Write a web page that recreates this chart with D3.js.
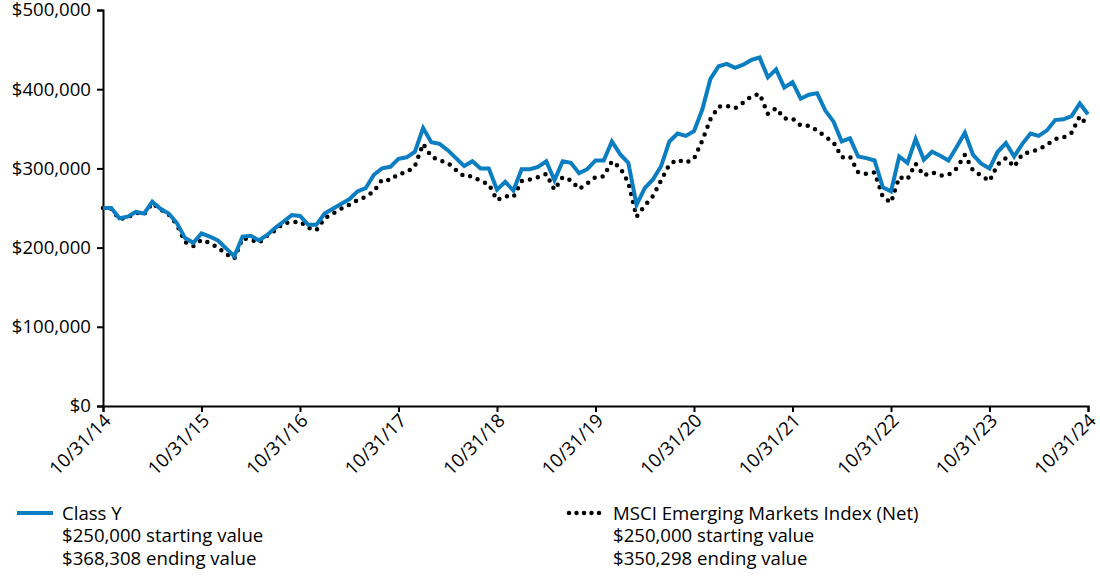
<!DOCTYPE html>
<html>
<head>
<meta charset="utf-8">
<script src="https://cdn.jsdelivr.net/npm/d3@7"></script>
<style>
  body { margin: 0; background: #fff; }
  svg { display: block; font-family: "Open Sans", "Noto Sans", sans-serif; }
</style>
</head>
<body>
<svg id="chart" width="1100" height="578"></svg>
<script>
// ---- data ----
const tickLabels = ["10/31/14","10/31/15","10/31/16","10/31/17","10/31/18","10/31/19","10/31/20","10/31/21","10/31/22","10/31/23","10/31/24"];
const yTicks = [0, 100000, 200000, 300000, 400000, 500000];
// monthly values in thousands, 10/31/14 .. 10/31/24 (121 points)
const classY = [
  250,250,237,239,245,243,258,249,243,231,212,206,
  218,214,209,199,189,214,215,209,216,225,233,241,
  240,229,229,243,249,255,261,271,275,292,300,302,
  312,314,321,351,333,331,323,313,303,309,300,300,
  273,283,272,299,299,302,309,285,309,307,294,299,
  310,310,334,318,307,254,275,286,303,334,344,341,
  347,374,413,429,432,427,431,437,440,415,425,402,
  409,388,393,395,373,359,334,338,315,313,310,276,
  271,315,307,337,311,321,316,310,327,345,317,306,
  300,321,332,315,331,344,341,348,361,362,366,382,
  368.308
];
const msci = [
  250,249,236,238,244,242,256,248,242,229,207,202,
  210,206,200,192,186,212,210,206,215,222,231,232,
  233,225,222,237,243,249,254,260,264,271,286,285,
  293,295,303,331,315,310,307,298,290,290,284,280,
  260,265,264,284,286,289,293,273,289,285,274,281,
  289,290,309,301,282,239,253,265,285,305,311,307,
  312,335,362,378,379,376,383,391,394,369,376,363,
  363,354,354,348,340,333,314,315,295,293,295,264,
  257,289,286,306,291,295,291,292,300,317,297,291,
  284,305,313,302,318,321,324,330,337,339,345,366,
  354
];
const seriesNames = ["Class Y", "MSCI Emerging Markets Index (Net)"];
const startValues = ["$250,000 starting value", "$250,000 starting value"];
const endValues = ["$368,308 ending value", "$350,298 ending value"];

// ---- layout ----
(function () {
const svg = d3.select("#chart");
const mLeft = 103, mRight = 1088, mTop = 10, mBottom = 406;
const blue = "#0b7dc1";
const fs = 18.6;

const x = d3.scaleLinear().domain([0, 120]).range([mLeft, mRight]);
const y = d3.scaleLinear().domain([0, 500000]).range([mBottom, mTop]);

// y axis
const yAxis = d3.axisLeft(y).tickValues(yTicks).tickSize(6).tickPadding(6)
  .tickFormat(d => "$" + d3.format(",")(d));
const gy = svg.append("g").attr("transform", `translate(${mLeft},0)`).call(yAxis);
gy.select(".domain").attr("stroke", "#000").attr("stroke-width", 2);
gy.selectAll(".tick line").attr("stroke", "#000").attr("stroke-width", 2);
gy.selectAll(".tick text").attr("font-size", fs).attr("fill", "#000")
  .attr("font-family", "Open Sans, sans-serif");

// x axis
const xAxis = d3.axisBottom(x).tickValues(d3.range(0, 121, 12)).tickSize(6)
  .tickFormat((d, i) => tickLabels[i]);
const gx = svg.append("g").attr("transform", `translate(0,${mBottom})`).call(xAxis);
gx.select(".domain").attr("stroke", "#000").attr("stroke-width", 2);
gx.selectAll(".tick line").attr("stroke", "#000").attr("stroke-width", 2);
gx.selectAll(".tick text")
  .attr("font-size", fs).attr("fill", "#000")
  .attr("font-family", "Open Sans, sans-serif")
  .attr("text-anchor", "end")
  .attr("y", 0).attr("dy", "0.35em")
  .attr("transform", "translate(4,11) rotate(-45)");

// lines
const line = d3.line().x((d, i) => x(i)).y(d => y(d * 1000));

svg.append("path").datum(msci)
  .attr("d", line).attr("fill", "none")
  .attr("stroke", "#000").attr("stroke-width", 4.5)
  .attr("stroke-linecap", "round").attr("stroke-dasharray", "0,8.2");

svg.append("path").datum(classY)
  .attr("d", line).attr("fill", "none")
  .attr("stroke", blue).attr("stroke-width", 4)
  .attr("stroke-linejoin", "miter");

// legend
const legend = [
  {x0: 17, tx: 62, color: blue, dotted: false},
  {x0: 567, tx: 613, color: "#000", dotted: true}
];
legend.forEach((l, i) => {
  const g = svg.append("g");
  const ln = g.append("line").attr("x1", l.x0).attr("x2", l.x0 + 36)
    .attr("y1", 513).attr("y2", 513).attr("stroke", l.color);
  if (l.dotted) ln.attr("stroke-width", 4.5).attr("stroke-linecap", "round").attr("stroke-dasharray", "0,7.5").attr("x1", l.x0 + 2).attr("x2", l.x0 + 36);
  else ln.attr("stroke-width", 4);
  const lines = [seriesNames[i], startValues[i], endValues[i]];
  lines.forEach((t, j) => {
    g.append("text").attr("x", l.tx).attr("y", 519.5 + j * 22.5)
      .attr("font-size", fs).attr("fill", "#000").text(t);
  });
});
})();
</script>
</body>
</html>
